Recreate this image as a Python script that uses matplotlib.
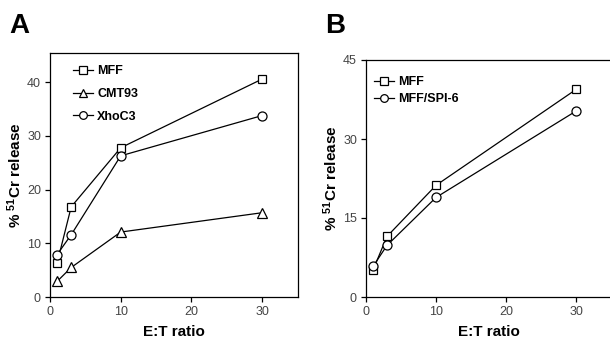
import matplotlib
matplotlib.use("Agg")
import matplotlib.pyplot as plt

plt.rcParams['font.family'] = ['Liberation Sans', 'DejaVu Sans']
plt.rcParams['mathtext.fontset'] = 'custom'
plt.rcParams['mathtext.rm'] = 'Liberation Sans:bold'
plt.rcParams['mathtext.default'] = 'rm'

et_ratio = [1, 3, 10, 30]

a_mff = [6.3, 16.8, 27.8, 40.6]
a_cmt93 = [2.9, 5.5, 12.1, 15.7]
a_xhoc3 = [7.9, 11.6, 26.3, 33.8]

b_mff = [5.1, 11.5, 21.2, 39.4]
b_spi6 = [5.8, 9.8, 18.9, 35.3]

a_yticks = [0, 10, 20, 30, 40]
b_yticks = [0, 15, 30, 45]
xticks = [0, 10, 20, 30]

fig = plt.figure(figsize=(6.10, 3.39), dpi=100)
W, H = 610, 339

def px_axes(l, t, r, b):
    return fig.add_axes([l / W, 1 - b / H, (r - l) / W, (b - t) / H])

axA = px_axes(50, 53.3, 297.5, 297)
axB = px_axes(366, 60, 611, 297)

common = dict(color='black', lw=0.9, mfc='white', mec='black', mew=0.9)

axA.plot(et_ratio, a_mff, marker='s', ms=6, label='MFF', **common)
axA.plot(et_ratio, a_cmt93, marker='^', ms=6.5, label='CMT93', **common)
axA.plot(et_ratio, a_xhoc3, marker='o', ms=6.5, label='XhoC3', **common)
axA.set_xlim(0, 35)
axA.set_ylim(0, 45.4)
axA.set_yticks(a_yticks)

axB.plot(et_ratio, b_mff, marker='s', ms=6, label='MFF', **common)
axB.plot(et_ratio, b_spi6, marker='o', ms=6.5, label='MFF/SPI-6', **common)
axB.set_xlim(0, 35)
axB.set_ylim(0, 45)
axB.set_yticks(b_yticks)

for ax in (axA, axB):
    ax.set_xticks(xticks)
    ax.tick_params(direction='out', length=3.5, width=0.9, labelsize=9,
                   labelcolor='#444444', pad=3)
    for s in ax.spines.values():
        s.set_linewidth(0.9)
    ax.set_xlabel('E:T ratio', fontsize=11, fontweight='bold', labelpad=5)
    ax.set_ylabel(r'% $^{51}$Cr release', fontsize=11, fontweight='bold', labelpad=2)

legA_w, legA_h = 247.5, 243.7
axA.legend(loc='upper left', bbox_to_anchor=(23 / legA_w, 1 - 12 / legA_h),
           frameon=False, handlelength=1.6, handletextpad=0.35,
           labelspacing=0.85, borderaxespad=0, borderpad=0, markerscale=0.85,
           prop={'weight': 'bold', 'size': 9})
axB.legend(loc='upper left', bbox_to_anchor=(8 / 245, 1 - 16 / 237),
           frameon=False, handlelength=1.6, handletextpad=0.35,
           labelspacing=0.4, borderaxespad=0, borderpad=0, markerscale=0.85,
           prop={'weight': 'bold', 'size': 9})

fig.text(9 / W, 1 - 33 / H, 'A', fontsize=20, fontweight='bold')
fig.text(325 / W, 1 - 33 / H, 'B', fontsize=20, fontweight='bold')

fig.savefig('out.png', dpi=100)
